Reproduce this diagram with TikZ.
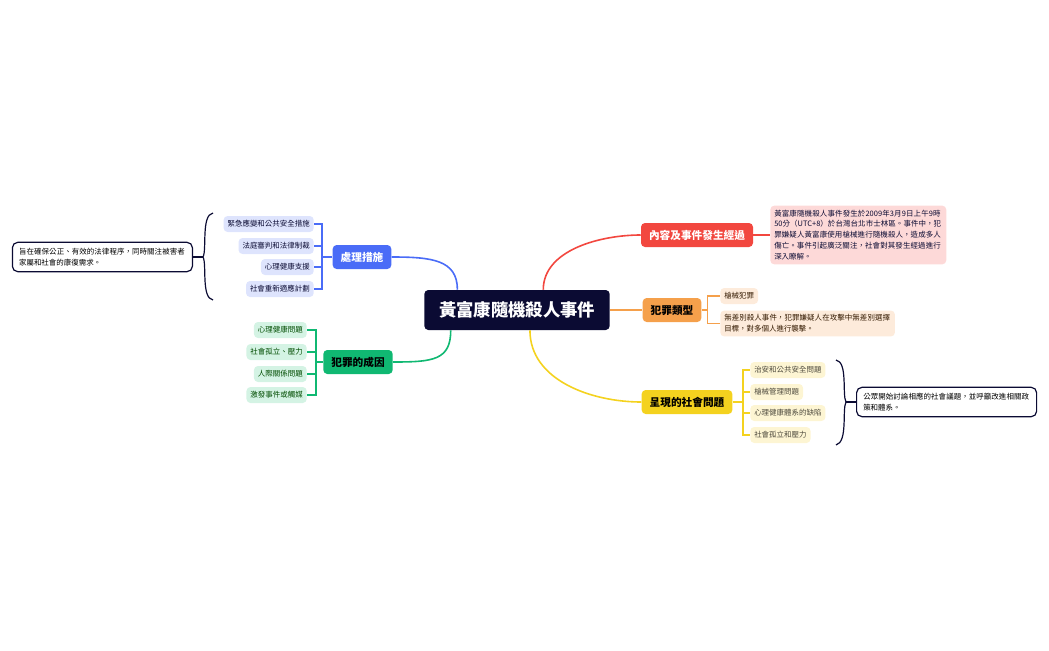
\documentclass[tikz,border=0pt]{standalone}
\usepackage{fontspec}
\setmainfont{Noto Sans CJK TC}
\XeTeXlinebreaklocale "zh"
\XeTeXlinebreakskip=0pt plus 1pt
\usetikzlibrary{calc}
\definecolor{navy}{HTML}{0B0B33}
\definecolor{cred}{HTML}{F2473F}
\definecolor{cpink}{HTML}{FDD9D8}
\definecolor{corange}{HTML}{F5A04B}
\definecolor{cpeach}{HTML}{FDEBDB}
\definecolor{cyellow}{HTML}{F4D21F}
\definecolor{clyellow}{HTML}{FDF5D3}
\definecolor{cblue}{HTML}{4A6CF7}
\definecolor{clblue}{HTML}{DEE4FD}
\definecolor{cgreen}{HTML}{10B872}
\definecolor{clgreen}{HTML}{D4F3E4}
\begin{document}
\begin{tikzpicture}[x=0.75pt,y=-0.75pt,
 main/.style={rounded corners=3pt,font=\bfseries\fontsize{8}{10}\selectfont,minimum height=18pt,inner xsep=6pt},
 sub/.style={rounded corners=3pt,font=\fontsize{5.6}{7}\selectfont,minimum height=12pt,inner xsep=3pt},
 note/.style={rounded corners=3pt,font=\fontsize{5.6}{8.2}\selectfont,align=left,inner sep=3pt},
 sumbox/.style={draw=navy,line width=0.9pt,rounded corners=4pt,font=\fontsize{5.6}{8}\selectfont,align=left,inner xsep=5pt,text width=125pt,minimum height=22pt}]
\useasboundingbox (0,0) rectangle (1049,650);
\node[fill=navy,text=white,rounded corners=3pt,font=\bfseries\fontsize{13}{15}\selectfont,minimum width=139pt,minimum height=30pt] (root) at (517,310) {黃富康隨機殺人事件};
% red
\node[main,fill=cred,text=white] (r) at (697,235) {內容及事件發生經過};
\node[note,fill=cpink,text=navy,text width=126pt,anchor=west] (rd) at (770,235) {黃富康隨機殺人事件發生於2009年3月9日上午9時50分（UTC+8）於台灣台北市士林區。事件中，犯罪嫌疑人黃富康使用槍械進行隨機殺人，造成多人傷亡。事件引起廣泛關注，社會對其發生經過進行深入瞭解。};
\draw[cred,line width=1.2pt] (root.north east)++(-50pt,0) .. controls +(0,-40) and +(-40,0) .. (r.west);
\draw[cred,line width=1pt] (r.east) -- (rd.west);
% orange
\node[main,fill=corange,text=black] (o) at (672,310) {犯罪類型};
\node[sub,fill=cpeach,text=black!80!orange,anchor=west] (o1) at (720,296) {槍械犯罪};
\node[note,fill=cpeach,text=black!80!orange,text width=125pt,anchor=west] (o2) at (720,323.5) {無差別殺人事件，犯罪嫌疑人在攻擊中無差別選擇目標，對多個人進行襲擊。};
\draw[corange,line width=1.2pt] (root.east) -- (o.west);
\draw[corange,line width=0.8pt] (o.east) -- ++(6,0) coordinate(oj) (oj) |- (o1.west);
\draw[corange,line width=0.8pt] (oj) |- (o2.west);
% yellow
\node[main,fill=cyellow,text=black] (y) at (687,402) {呈現的社會問題};
\foreach \i/\t/\yy in {1/治安和公共安全問題/370,2/槍械管理問題/392,3/心理健康體系的缺陷/413,4/社會孤立和壓力/435}
 \node[sub,fill=clyellow,text=black!80!yellow,anchor=west] (y\i) at (750,\yy) {\t};
\draw[cyellow,line width=1.2pt] (root.south east)++(-60pt,0) .. controls +(0,50) and +(-50,0) .. (y.west);
\coordinate (yj) at (743,402);
\draw[cyellow,line width=0.8pt] (y.east) -- (yj);
\foreach \i in {1,...,4} \draw[cyellow,line width=0.8pt] (yj) |- (y\i.west);
\draw[navy,line width=0.9pt] (836,360) .. controls (848,362) and (842,395) .. (846,402) .. controls (842,409) and (848,442) .. (836,445);
\node[sumbox,anchor=west] (ys) at (856,402) {公眾開始討論相應的社會議題，並呼籲改進相關政策和體系。};
\draw[navy,line width=0.9pt] (846,402) -- (ys.west);
% blue
\node[main,fill=cblue,text=white] (b) at (362,257) {處理措施};
\foreach \i/\t/\yy in {1/緊急應變和公共安全措施/224,2/法庭審判和法律制裁/246,3/心理健康支援/267,4/社會重新適應計劃/289}
 \node[sub,fill=clblue,text=navy,anchor=east] (b\i) at (314,\yy) {\t};
\draw[cblue,line width=1.2pt] (root.north west)++(25pt,0) .. controls +(0,-30) and +(40,0) .. (b.east);
\coordinate (bj) at (322,257);
\draw[cblue,line width=0.8pt] (b.west) -- (bj);
\foreach \i in {1,...,4} \draw[cblue,line width=0.8pt] (bj) |- (b\i.east);
\draw[navy,line width=0.9pt] (213,213) .. controls (201,215) and (207,250) .. (203,257) .. controls (207,264) and (201,298) .. (213,300);
\node[sumbox,anchor=east] (bs) at (193,257) {旨在確保公正、有效的法律程序，同時關注被害者家屬和社會的康復需求。};
\draw[navy,line width=0.9pt] (203,257) -- (bs.east);
% green
\node[main,fill=cgreen,text=black] (g) at (358,362) {犯罪的成因};
\foreach \i/\t/\yy in {1/心理健康問題/330,2/社會孤立、壓力/352,3/人際關係問題/374,4/激發事件或觸媒/395}
 \node[sub,fill=clgreen,text=black!70!green,anchor=east] (g\i) at (307,\yy) {\t};
\draw[cgreen,line width=1.2pt] (root.south west)++(20pt,0) .. controls +(0,30) and +(40,0) .. (g.east);
\coordinate (gj) at (316,362);
\draw[cgreen,line width=0.8pt] (g.west) -- (gj);
\foreach \i in {1,...,4} \draw[cgreen,line width=0.8pt] (gj) |- (g\i.east);
\end{tikzpicture}
\end{document}
